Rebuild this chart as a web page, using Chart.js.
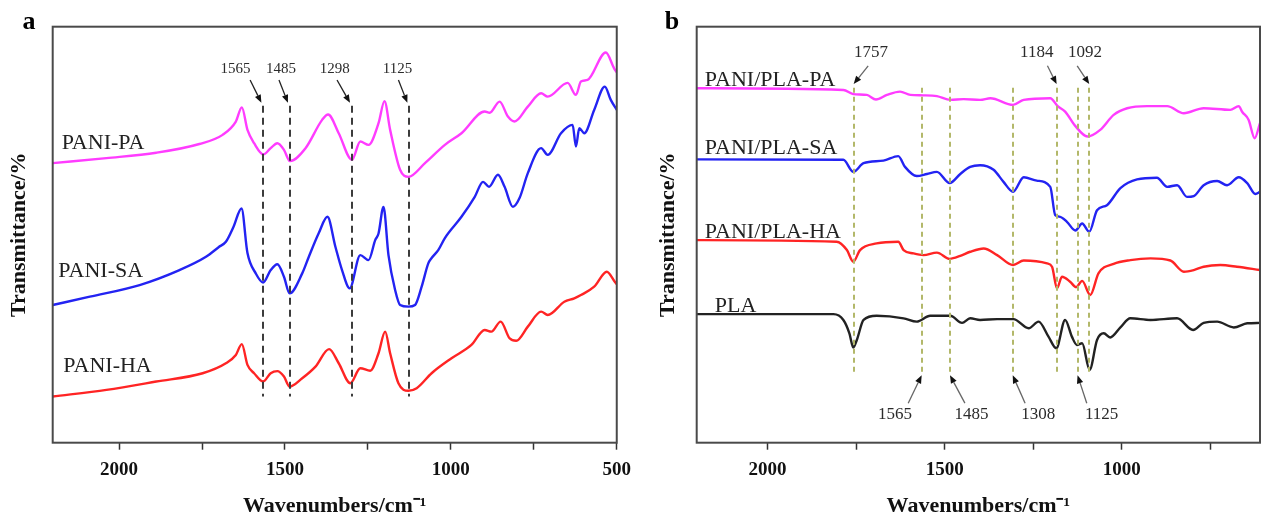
<!DOCTYPE html>
<html>
<head>
<meta charset="utf-8">
<script src="https://cdn.jsdelivr.net/npm/chart.js@4.4.1/dist/chart.umd.min.js"></script>
<style>
	html, body { margin: 0; padding: 0; background: #fff; overflow: hidden; }
	#wrap { position: relative; width: 1264px; height: 518px; }
	#panelA { position: absolute; left: 0; top: 0; }
	#panelB { position: absolute; left: 640px; top: 0; }
</style>
</head>
<body>
<div id="wrap">
	<canvas id="panelA" width="640" height="518"></canvas>
	<canvas id="panelB" width="624" height="518"></canvas>
</div>
<script>
/* ═══ DATA — panel a (wavenumber / transmittance, offset units) ═══ */

var paniPaWn = [ 2200, 2038, 1888, 1758, 1688, 1648, 1630, 1613, 1593, 1565, 1543, 1523, 1503, 1485, 1438, 1388, 1370, 1338, 1298, 1273, 1248, 1218, 1200, 1183, 1153, 1128, 1078, 1018, 968, 898, 883, 853, 828, 808, 768, 728, 708, 648, 623, 608, 588, 533, 508, 500 ];
var paniPaT  = [ 67.2, 68.4, 69.7, 71.8, 74.0, 77.2, 80.6, 75.2, 72.0, 69.3, 70.8, 72.0, 70.4, 67.7, 70.8, 77.6, 78.9, 74.4, 68.0, 72.4, 71.6, 76.8, 82.1, 75.2, 65.6, 63.9, 67.2, 71.6, 74.4, 79.6, 79.3, 82.0, 78.4, 77.2, 80.8, 84.0, 83.2, 86.5, 83.6, 86.8, 87.2, 93.8, 90.0, 89.0 ];

var paniSaWn = [ 2200, 2088, 1938, 1818, 1738, 1700, 1678, 1655, 1631, 1613, 1588, 1566, 1543, 1523, 1503, 1486, 1448, 1428, 1398, 1372, 1348, 1328, 1305, 1273, 1248, 1228, 1218, 1203, 1188, 1168, 1153, 1128, 1108, 1088, 1068, 1058, 1038, 1018, 968, 928, 903, 885, 858, 838, 813, 793, 768, 728, 708, 668, 633, 623, 613, 598, 568, 536, 518, 500 ];
var paniSaT  = [ 33.1, 35.1, 37.9, 41.5, 44.7, 47.0, 48.3, 51.9, 56.3, 45.6, 40.7, 38.5, 41.5, 42.9, 39.9, 35.9, 40.7, 44.7, 50.4, 54.3, 47.1, 41.5, 37.1, 45.1, 43.9, 48.7, 50.3, 56.7, 45.1, 36.7, 33.1, 32.7, 33.1, 37.5, 43.1, 44.4, 46.3, 49.2, 54.3, 59.1, 62.7, 61.5, 64.4, 61.5, 56.7, 58.8, 64.8, 70.8, 69.2, 74.4, 76.4, 71.2, 75.6, 74.4, 80.0, 85.6, 82.4, 80.0 ];

var paniHaWn = [ 2200, 2038, 1888, 1748, 1678, 1648, 1630, 1613, 1593, 1566, 1543, 1523, 1503, 1486, 1448, 1408, 1367, 1338, 1303, 1273, 1243, 1218, 1198, 1183, 1158, 1128, 1103, 1058, 998, 938, 898, 878, 850, 823, 803, 768, 728, 708, 658, 628, 608, 568, 530, 506, 500 ];
var paniHaT  = [ 11.1, 12.7, 14.7, 16.7, 19.1, 21.1, 23.7, 18.7, 16.7, 14.7, 16.7, 17.2, 15.9, 13.5, 15.5, 18.3, 22.5, 19.1, 14.3, 17.9, 17.3, 21.5, 26.7, 21.5, 14.3, 12.5, 13.1, 16.7, 20.3, 23.5, 27.1, 26.7, 29.1, 25.1, 24.5, 27.9, 31.5, 30.7, 33.9, 34.7, 35.5, 37.5, 41.1, 38.7, 38.1 ];

var peaksA = [ 1565, 1485, 1298, 1125 ];
var ticksA = [ 2000, 1750, 1500, 1250, 1000, 750, 500 ];

/* ═══ DATA — panel b ═══ */

var plaPaWn = [ 2200, 1786, 1758, 1720, 1694, 1663, 1626, 1597, 1560, 1522, 1484, 1447, 1400, 1371, 1307, 1277, 1202, 1181, 1160, 1131, 1097, 1061, 1023, 985, 929, 872, 825, 769, 694, 670, 660, 642, 625, 610 ];
var plaPaT  = [ 85.2, 84.8, 83.8, 83.6, 82.5, 83.6, 84.4, 83.6, 83.5, 83.3, 82.4, 82.6, 82.4, 82.8, 81.2, 82.4, 82.8, 80.9, 79.6, 76.1, 73.6, 75.2, 78.8, 80.4, 80.9, 80.9, 79.2, 80.4, 80.0, 80.9, 79.5, 77.6, 73.2, 76.8 ];

var plaSaWn = [ 2200, 1786, 1758, 1729, 1673, 1631, 1612, 1579, 1550, 1522, 1486, 1456, 1428, 1400, 1362, 1334, 1307, 1277, 1240, 1202, 1188, 1174, 1155, 1131, 1112, 1092, 1070, 1042, 1004, 957, 901, 872, 844, 816, 797, 769, 731, 703, 670, 646, 623, 610 ];
var plaSaT  = [ 68.1, 68.0, 65.1, 67.2, 67.8, 68.9, 66.3, 64.1, 64.6, 65.1, 62.4, 64.6, 66.3, 66.7, 65.6, 62.7, 60.3, 63.8, 63.0, 61.5, 54.7, 54.3, 53.1, 51.0, 52.7, 50.7, 55.9, 57.1, 61.2, 63.3, 63.7, 61.5, 61.9, 59.1, 59.3, 61.9, 62.9, 61.9, 63.8, 62.4, 59.8, 60.3 ];

var plaHaWn = [ 2200, 1805, 1776, 1758, 1739, 1692, 1631, 1616, 1588, 1560, 1522, 1486, 1456, 1428, 1390, 1352, 1307, 1277, 1211, 1197, 1183, 1169, 1146, 1129, 1112, 1089, 1066, 1023, 976, 919, 863, 825, 797, 769, 722, 675, 610 ];
var plaHaT  = [ 48.7, 48.3, 46.3, 43.5, 46.3, 47.9, 48.3, 46.3, 45.5, 45.1, 45.7, 44.2, 44.9, 45.9, 46.7, 45.1, 42.7, 43.8, 43.1, 42.3, 37.1, 39.9, 38.7, 37.4, 38.9, 35.5, 40.7, 43.0, 43.9, 44.3, 43.8, 41.1, 41.5, 42.3, 42.7, 42.3, 41.5 ];

var plaWn = [ 2200, 1814, 1786, 1769, 1758, 1748, 1729, 1692, 1616, 1579, 1541, 1484, 1451, 1428, 1400, 1352, 1306, 1263, 1235, 1207, 1185, 1160, 1141, 1127, 1112, 1091, 1070, 1051, 1033, 1004, 976, 919, 844, 799, 769, 731, 684, 646, 610 ];
var plaT  = [ 30.9, 30.9, 29.5, 26.3, 22.9, 24.7, 29.5, 30.5, 29.9, 29.1, 30.5, 30.5, 28.8, 29.9, 29.5, 29.7, 29.7, 27.5, 29.1, 25.5, 22.7, 29.5, 25.5, 23.5, 23.9, 17.5, 24.7, 26.3, 25.3, 27.7, 29.9, 29.5, 29.9, 27.1, 28.8, 29.1, 27.7, 28.7, 28.8 ];

var peaksB = [ 1757, 1565, 1485, 1308, 1184, 1125, 1092 ];
var ticksB = [ 2000, 1750, 1500, 1250, 1000, 750 ];

var tickLabelsEvery = 500;

(function() {
	'use strict';

	var SERIF = '"Liberation Serif", "Times New Roman", serif';

	/* ═══ HELPERS ═══ */

	function toPoints( wn, t ) {
		var pts = [];
		for ( var i = 0; i < wn.length; i++ ) pts.push({ x: wn[i], y: t[i] });
		return pts;
	}

	function makeDataset( label, wn, t, color, smooth ) {
		return {
			label: label,
			data: toPoints( wn, t ),
			borderColor: color,
			backgroundColor: color,
			borderWidth: 2.4,
			pointRadius: 0,
			tension: smooth,
			cubicInterpolationMode: 'monotone',
			fill: false
		};
	}

	function arrow( ctx, x1, y1, x2, y2, lineColor, headColor ) {
		var ang = Math.atan2( y2 - y1, x2 - x1 );
		var len = 8, half = 3.2;
		ctx.save();
		ctx.setLineDash( [] );
		ctx.strokeStyle = lineColor;
		ctx.lineWidth = 1.3;
		ctx.beginPath();
		ctx.moveTo( x1, y1 );
		ctx.lineTo( x2 - Math.cos( ang ) * len, y2 - Math.sin( ang ) * len );
		ctx.stroke();
		ctx.fillStyle = headColor;
		ctx.beginPath();
		ctx.moveTo( x2, y2 );
		ctx.lineTo( x2 - Math.cos( ang ) * len - Math.sin( ang ) * half, y2 - Math.sin( ang ) * len + Math.cos( ang ) * half );
		ctx.lineTo( x2 - Math.cos( ang ) * len + Math.sin( ang ) * half, y2 - Math.sin( ang ) * len - Math.cos( ang ) * half );
		ctx.closePath();
		ctx.fill();
		ctx.restore();
	}

	// Frame, peak guides, arrows, curve names, panel letter
	function notesPlugin( cfg ) {
		return {
			id: 'spectrumNotes',
			afterDatasetsDraw: function( chart ) {
				var ctx = chart.ctx;
				var xs = chart.scales.x, ys = chart.scales.y;
				var area = chart.chartArea;
				ctx.save();

				// peak guide lines
				ctx.strokeStyle = cfg.guideColor;
				ctx.lineWidth = 2;
				ctx.setLineDash( cfg.guideDash );
				for ( var i = 0; i < cfg.peaks.length; i++ ) {
					var gx = Math.round( xs.getPixelForValue( cfg.peaks[i] ) );
					ctx.beginPath();
					ctx.moveTo( gx, ys.getPixelForValue( cfg.guideTop ) );
					ctx.lineTo( gx, ys.getPixelForValue( cfg.guideBottom ) );
					ctx.stroke();
				}
				ctx.setLineDash( [] );

				// peak notes with arrows
				ctx.font = cfg.noteSize + 'px ' + SERIF;
				ctx.textAlign = 'center';
				ctx.textBaseline = 'middle';
				for ( var j = 0; j < cfg.notes.length; j++ ) {
					var n = cfg.notes[j];
					ctx.fillStyle = '#2b2b2b';
					ctx.fillText( String( n.peak ), xs.getPixelForValue( n.textX ), ys.getPixelForValue( n.textY ) );
					arrow( ctx,
						xs.getPixelForValue( n.fromX ), ys.getPixelForValue( n.fromY ),
						xs.getPixelForValue( n.peak ) + n.tipShift, ys.getPixelForValue( n.toY ),
						cfg.arrowColor, '#111' );
				}

				// curve names
				ctx.font = '22px ' + SERIF;
				ctx.textAlign = 'left';
				ctx.fillStyle = '#222';
				for ( var k = 0; k < cfg.names.length; k++ ) {
					var nm = cfg.names[k];
					ctx.fillText( nm.text, xs.getPixelForValue( nm.x ), ys.getPixelForValue( nm.y ) );
				}

				// frame
				ctx.strokeStyle = '#4a4a4a';
				ctx.lineWidth = 2;
				ctx.strokeRect( area.left, area.top, area.right - area.left, area.bottom - area.top );

				// panel letter
				ctx.font = 'bold 26px ' + SERIF;
				ctx.textAlign = 'center';
				ctx.fillStyle = '#000';
				ctx.fillText( cfg.letter, cfg.letterX, 22 );

				ctx.restore();
			}
		};
	}

	function makeChart( el, datasets, xMin, tickList, yWidth, padRight, yTitlePad, notes ) {
		return new Chart( el.getContext( '2d' ), {
			type: 'line',
			data: { datasets: datasets },
			options: {
				responsive: false,
				animation: false,
				layout: { padding: { top: 26.7, right: padRight, bottom: 0, left: 0 } },
				plugins: {
					legend: { display: false },
					tooltip: { enabled: false }
				},
				scales: {
					x: {
						type: 'linear',
						reverse: true,
						min: xMin,
						max: 2200,
						afterFit: function( s ) { s.height = 75.3; },
						afterBuildTicks: function( s ) {
							s.ticks = tickList.map( function( v ) { return { value: v }; } );
						},
						border: { display: false },
						grid: {
							drawOnChartArea: false,
							drawTicks: true,
							tickLength: 7,
							tickColor: '#333',
							tickWidth: 1.5
						},
						ticks: {
							autoSkip: false,
							maxRotation: 0,
							padding: 9,
							color: '#111',
							font: { family: SERIF, size: 19, weight: 'bold' },
							callback: function( v ) { return v % tickLabelsEvery === 0 ? String( v ) : ''; }
						},
						title: {
							display: true,
							text: 'Wavenumbers/cm\u207B\u00B9',
							color: '#111',
							padding: { top: 0, bottom: 1 },
							font: { family: SERIF, size: 22, weight: 'bold', lineHeight: 1 }
						}
					},
					y: {
						min: 0,
						max: 100,
						afterFit: function( s ) { s.width = yWidth; },
						border: { display: false },
						grid: { display: false },
						ticks: { display: false },
						title: {
							display: true,
							text: 'Transmittance/%',
							color: '#111',
							padding: { top: yTitlePad, bottom: 0 },
							font: { family: SERIF, size: 22, weight: 'bold', lineHeight: 1 }
						}
					}
				}
			},
			plugins: [ notesPlugin( notes ) ]
		});
	}

	/* ═══ PANEL A ═══ */

	makeChart(
		document.getElementById( 'panelA' ),
		[
			makeDataset( 'PANI-PA', paniPaWn, paniPaT, '#ff3cff', 0.4 ),
			makeDataset( 'PANI-SA', paniSaWn, paniSaT, '#2323f2', 0.4 ),
			makeDataset( 'PANI-HA', paniHaWn, paniHaT, '#ff2424', 0.4 )
		],
		500, ticksA, 52.7, 22.5, 8.5,
		{
			letter: 'a', letterX: 29,
			peaks: peaksA, guideColor: '#3c3c3c', guideDash: [ 7, 5 ], guideTop: 81.0, guideBottom: 11.1,
			noteSize: 15, arrowColor: '#222',
			notes: [
				{ peak: 1565, textX: 1649, textY: 89.8, fromX: 1605, fromY: 87.2, toY: 81.7, tipShift: -2 },
				{ peak: 1485, textX: 1512, textY: 89.8, fromX: 1518, fromY: 87.2, toY: 81.7, tipShift: -2 },
				{ peak: 1298, textX: 1350, textY: 89.8, fromX: 1343, fromY: 87.2, toY: 81.7, tipShift: -2 },
				{ peak: 1125, textX: 1161, textY: 89.8, fromX: 1158, fromY: 87.2, toY: 81.7, tipShift: -2 }
			],
			names: [
				{ text: 'PANI-PA', x: 2173, y: 72.1 },
				{ text: 'PANI-SA', x: 2183, y: 41.3 },
				{ text: 'PANI-HA', x: 2168, y: 18.3 }
			]
		}
	);

	/* ═══ PANEL B ═══ */

	makeChart(
		document.getElementById( 'panelB' ),
		[
			makeDataset( 'PANI/PLA-PA', plaPaWn, plaPaT, '#ff3cff', 0.2 ),
			makeDataset( 'PANI/PLA-SA', plaSaWn, plaSaT, '#2323f2', 0.2 ),
			makeDataset( 'PANI/PLA-HA', plaHaWn, plaHaT, '#ff2424', 0.2 ),
			makeDataset( 'PLA', plaWn, plaT, '#222222', 0.2 )
		],
		610, ticksB, 56.7, 4, 17,
		{
			letter: 'b', letterX: 32,
			peaks: peaksB, guideColor: '#b3b86a', guideDash: [ 5, 4 ], guideTop: 85.3, guideBottom: 16.7,
			noteSize: 17, arrowColor: '#666',
			notes: [
				{ peak: 1757, textX: 1708, textY: 93.7, fromX: 1716, fromY: 90.6, toY: 86.2, tipShift: 0 },
				{ peak: 1184, textX: 1240, textY: 93.7, fromX: 1210, fromY: 90.6, toY: 86.2, tipShift: 0 },
				{ peak: 1092, textX: 1104, textY: 93.7, fromX: 1126, fromY: 90.6, toY: 86.2, tipShift: 0 },
				{ peak: 1565, textX: 1640, textY: 6.7, fromX: 1603, fromY: 9.5, toY: 16.2, tipShift: 0 },
				{ peak: 1485, textX: 1424, textY: 6.7, fromX: 1443, fromY: 9.5, toY: 16.2, tipShift: 0 },
				{ peak: 1308, textX: 1236, textY: 6.7, fromX: 1273, fromY: 9.5, toY: 16.2, tipShift: 0 },
				{ peak: 1125, textX: 1057, textY: 6.7, fromX: 1099, fromY: 9.5, toY: 16.2, tipShift: 0 }
			],
			names: [
				{ text: 'PANI/PLA-PA', x: 2177, y: 87.2 },
				{ text: 'PANI/PLA-SA', x: 2177, y: 70.8 },
				{ text: 'PANI/PLA-HA', x: 2177, y: 50.7 },
				{ text: 'PLA', x: 2149, y: 32.7 }
			]
		}
	);

})();
</script>
</body>
</html>
